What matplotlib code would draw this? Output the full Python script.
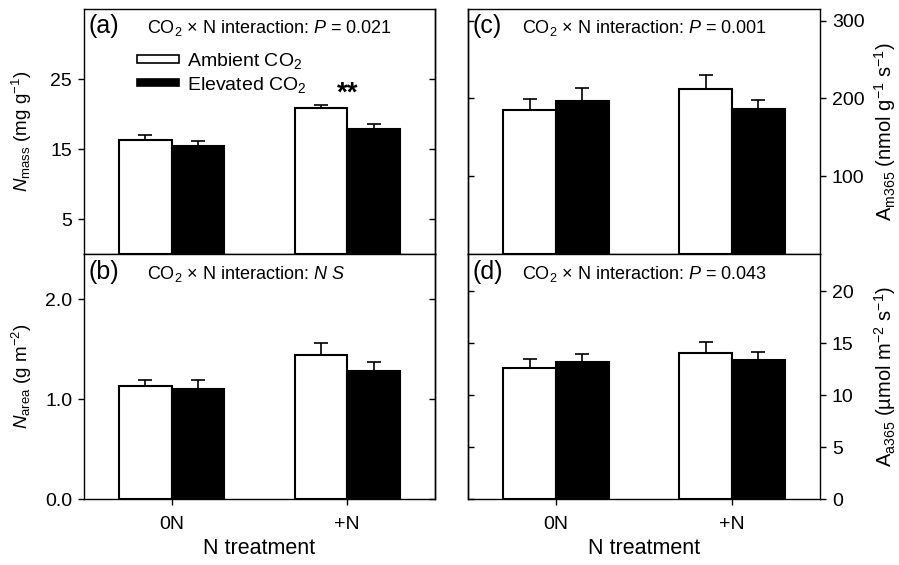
#!/usr/bin/env python3
"""
plot.py

Leaf N and photosynthesis under ambient / elevated CO2 with 0N and +N.
Four panels (a)-(d), saved as out.png
"""

import numpy as np
import matplotlib
matplotlib.use("Agg")
import matplotlib.pyplot as plt
from matplotlib.patches import Patch

plt.rcParams["font.family"] = ["Liberation Sans", "DejaVu Sans"]
plt.rcParams["mathtext.fontset"] = "custom"
plt.rcParams["mathtext.rm"] = "Liberation Sans"
plt.rcParams["mathtext.it"] = "Liberation Sans:italic"
plt.rcParams["mathtext.bf"] = "Liberation Sans:bold"

categories = ["0N", "+N"]

# (a) N mass, mg g-1
nmass_amb = [16.3, 20.8]
nmass_amb_se = [0.7, 0.5]
nmass_elev = [15.5, 17.8]
nmass_elev_se = [0.7, 0.8]

# (b) N area, g m-2
narea_amb = [1.13, 1.44]
narea_amb_se = [0.06, 0.12]
narea_elev = [1.10, 1.28]
narea_elev_se = [0.09, 0.09]

# (c) A m365, nmol g-1 s-1
am_amb = [185, 212]
am_amb_se = [14, 18]
am_elev = [197, 186]
am_elev_se = [16, 12]

# (d) A a365, umol m-2 s-1
aa_amb = [12.6, 14.1]
aa_amb_se = [0.9, 1.0]
aa_elev = [13.2, 13.4]
aa_elev_se = [0.8, 0.8]

W, H = 899, 565
LEFT_X = (84, 435)
RIGHT_X = (468, 820)
TOP_Y = (9, 254)
BOT_Y = (254, 499)


def make_axes(fig, xr, yr):
    return fig.add_axes([xr[0] / W, 1 - yr[1] / H,
                         (xr[1] - xr[0]) / W, (yr[1] - yr[0]) / H])


def draw_bars(ax, amb, amb_se, elev, elev_se):
    x = np.arange(len(categories))
    w = 0.3
    for xs, vals, se, col in [(x - w / 2, amb, amb_se, "white"),
                              (x + w / 2, elev, elev_se, "black")]:
        ax.errorbar(xs, vals, yerr=[np.zeros(len(se)), se], fmt="none",
                    ecolor="black", elinewidth=1.2, capsize=5, capthick=1.2,
                    zorder=1)
        ax.bar(xs, vals, width=w, color=col, edgecolor="black",
               linewidth=1.5, zorder=2)
    ax.set_xlim(-0.5, 1.5)
    ax.set_xticks(x)
    ax.set_xticklabels(categories)
    for s in ax.spines.values():
        s.set_linewidth(1.0)


def style_ticks(ax, side, bottom):
    ax.tick_params(axis="both", labelsize=14, width=1.0, length=4,
                   direction="out")
    ax.tick_params(axis="y", pad=4.5)
    ax.tick_params(axis="x", bottom=bottom, labelbottom=bottom, pad=8)
    other = "right" if side == "left" else "left"
    if side == "right":
        ax.yaxis.tick_right()
    sec = ax.secondary_yaxis(other)
    sec.set_yticks(ax.get_yticks())
    sec.tick_params(direction="in", length=4, width=1.0, labelleft=False,
                    labelright=False)
    sec.spines[other].set_linewidth(1.0)


def panel_text(ax, tag, txt, xt):
    ax.text(0.012, 0.9, tag, transform=ax.transAxes, fontsize=18,
            va="baseline")
    ax.text(xt, 0.9, txt, transform=ax.transAxes, fontsize=13,
            va="baseline")


fig = plt.figure(figsize=(W / 100, H / 100), dpi=100)

ax_a = make_axes(fig, LEFT_X, TOP_Y)
ax_b = make_axes(fig, LEFT_X, BOT_Y)
ax_c = make_axes(fig, RIGHT_X, TOP_Y)
ax_d = make_axes(fig, RIGHT_X, BOT_Y)

# (a)
draw_bars(ax_a, nmass_amb, nmass_amb_se, nmass_elev, nmass_elev_se)
ax_a.set_ylim(0, 35)
ax_a.set_yticks([5, 15, 25])
style_ticks(ax_a, "left", False)
panel_text(ax_a, "(a)", r"CO$_2$ × N interaction: $P$ = 0.021", 0.18)
ax_a.text(1.0, 21.9, "**", ha="center", va="baseline", fontsize=20,
          fontweight="bold")
handles = [Patch(facecolor="white", edgecolor="black", linewidth=1.2),
           Patch(facecolor="black", edgecolor="black", linewidth=1.2)]
ax_a.legend(handles, [r"Ambient CO$_2$", r"Elevated CO$_2$"],
            loc="upper left", bbox_to_anchor=(0.151, 0.83), frameon=False,
            fontsize=14, handlelength=2.15, handleheight=0.25,
            handletextpad=0.4, labelspacing=0.2, borderpad=0,
            borderaxespad=0)

# (b)
draw_bars(ax_b, narea_amb, narea_amb_se, narea_elev, narea_elev_se)
ax_b.set_ylim(0, 2.45)
ax_b.set_yticks([0.0, 1.0, 2.0])
ax_b.set_yticklabels(["0.0", "1.0", "2.0"])
style_ticks(ax_b, "left", True)
panel_text(ax_b, "(b)", r"CO$_2$ × N interaction: $N$ $S$", 0.18)
ax_b.set_xlabel("N treatment", fontsize=15.5, labelpad=4)

# (c)
draw_bars(ax_c, am_amb, am_amb_se, am_elev, am_elev_se)
ax_c.set_ylim(0, 315)
ax_c.set_yticks([100, 200, 300])
style_ticks(ax_c, "right", False)
panel_text(ax_c, "(c)", r"CO$_2$ × N interaction: $P$ = 0.001", 0.153)

# (d)
draw_bars(ax_d, aa_amb, aa_amb_se, aa_elev, aa_elev_se)
ax_d.set_ylim(0, 23.6)
ax_d.set_yticks([0, 5, 10, 15, 20])
style_ticks(ax_d, "right", True)
panel_text(ax_d, "(d)", r"CO$_2$ × N interaction: $P$ = 0.043", 0.153)
ax_d.set_xlabel("N treatment", fontsize=15.5, labelpad=4)

# y labels
fig.text(22 / W, 1 - 131.5 / H, r"$N_{\mathrm{mass}}$ (mg g$^{-1}$)",
         rotation=90, ha="center", va="center", fontsize=13.5)
fig.text(22 / W, 1 - 376.5 / H, r"$N_{\mathrm{area}}$ (g m$^{-2}$)",
         rotation=90, ha="center", va="center", fontsize=13.5)
fig.text(885 / W, 1 - 131.5 / H, r"A$_{\mathrm{m365}}$ (nmol g$^{-1}$ s$^{-1}$)",
         rotation=90, ha="center", va="center", fontsize=14.5)
fig.text(885 / W, 1 - 376.5 / H, r"A$_{\mathrm{a365}}$ (µmol m$^{-2}$ s$^{-1}$)",
         rotation=90, ha="center", va="center", fontsize=14.5)

fig.savefig("out.png", dpi=100)
